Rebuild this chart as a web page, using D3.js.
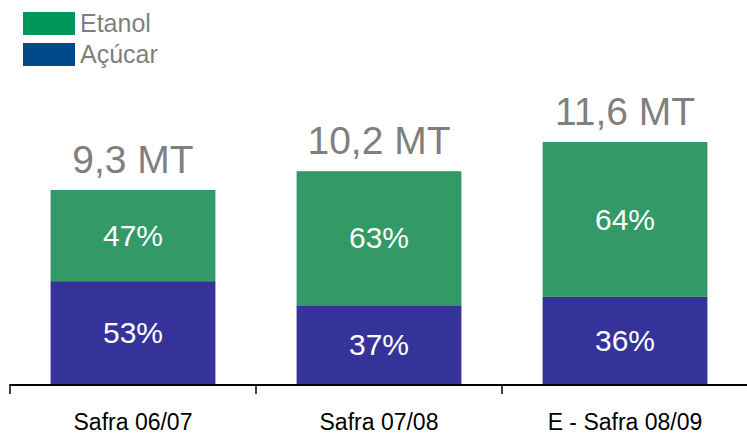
<!DOCTYPE html>
<html>
<head>
<meta charset="utf-8">
<script src="https://cdn.jsdelivr.net/npm/d3@7"></script>
<style>
  body { margin: 0; background: #fff; }
  svg { display: block; font-family: Arial, "Liberation Sans", sans-serif; }
</style>
</head>
<body>
<svg id="chart" width="747" height="434"></svg>
<script>
// chart data
const categories = ["Safra 06/07", "Safra 07/08", "E - Safra 08/09"];
const totals = [9.3, 10.2, 11.6];          // milhões de toneladas
const acucarPct = [53, 37, 36];
const etanolPct = [47, 63, 64];
const totalLabels = ["9,3 MT", "10,2 MT", "11,6 MT"];

const svg = d3.select("#chart");

const baseY = 384;

// x scale - band per safra
const x = d3.scaleBand()
    .domain(categories)
    .range([10, 748])
    .paddingInner(0.33)
    .paddingOuter(0.165);

const y = d3.scaleLinear()
    .domain([0, 11.6])
    .range([baseY, 142]);

// build stacked rows
const rows = categories.map((c, i) => ({
    cat: c,
    acucar: totals[i] * acucarPct[i] / 100,
    etanol: totals[i] * etanolPct[i] / 100,
    i: i
}));

const stack = d3.stack().keys(["acucar", "etanol"]);
const series = stack(rows);
const colors = { acucar: "#353399", etanol: "#339966" };
const pcts = { acucar: acucarPct, etanol: etanolPct };

const layer = svg.selectAll("g.layer")
    .data(series)
    .enter().append("g")
    .attr("class", "layer")
    .attr("fill", d => colors[d.key]);

layer.selectAll("rect")
    .data(d => d)
    .enter().append("rect")
    .attr("x", d => x(d.data.cat))
    .attr("width", x.bandwidth())
    .attr("y", d => y(d[1]))
    .attr("height", d => y(d[0]) - y(d[1]));

// percentage labels inside segments
series.forEach(s => {
    svg.selectAll(null)
        .data(s)
        .enter().append("text")
        .attr("x", d => x(d.data.cat) + x.bandwidth() / 2)
        .attr("y", d => (y(d[0]) + y(d[1])) / 2)
        .attr("dy", "0.34em")
        .attr("text-anchor", "middle")
        .attr("fill", "#fff")
        .style("font-size", "30px")
        .text(d => pcts[s.key][d.data.i] + "%");
});

// totals above bars
svg.selectAll("text.total")
    .data(rows)
    .enter().append("text")
    .attr("class", "total")
    .attr("x", d => x(d.cat) + x.bandwidth() / 2)
    .attr("y", d => y(totals[d.i]) - 17)
    .attr("text-anchor", "middle")
    .attr("fill", "#7f7f7f")
    .style("font-size", "39px")
    .text(d => totalLabels[d.i]);

// x axis
svg.append("line")
    .attr("x1", 10).attr("x2", 747)
    .attr("y1", baseY + 1).attr("y2", baseY + 1)
    .attr("stroke", "#000").attr("stroke-width", 2);

const tickX = categories.map(c => x(c) - x.step() * x.paddingInner() / 2);
svg.selectAll("line.tick")
    .data(tickX)
    .enter().append("line")
    .attr("class", "tick")
    .attr("x1", d => d).attr("x2", d => d)
    .attr("y1", baseY).attr("y2", baseY + 10)
    .attr("stroke", "#000").attr("stroke-width", 1.5);

svg.selectAll("text.cat")
    .data(categories)
    .enter().append("text")
    .attr("class", "cat")
    .attr("x", d => x(d) + x.bandwidth() / 2)
    .attr("y", 430)
    .attr("text-anchor", "middle")
    .attr("fill", "#000")
    .style("font-size", "23px")
    .text(d => d);

// legend
const legendItems = [
    { name: "Etanol", color: "#00975a" },
    { name: "Açúcar", color: "#004a8a" }
];
const lg = svg.selectAll("g.legend")
    .data(legendItems)
    .enter().append("g")
    .attr("class", "legend")
    .attr("transform", (d, i) => `translate(23, ${12 + i * 31})`);

lg.append("rect")
    .attr("width", 52).attr("height", 23)
    .attr("fill", d => d.color);

lg.append("text")
    .attr("x", 57).attr("y", 20)
    .attr("fill", "#7f7f7f")
    .style("font-size", "25px")
    .text(d => d.name);
</script>
</body>
</html>
